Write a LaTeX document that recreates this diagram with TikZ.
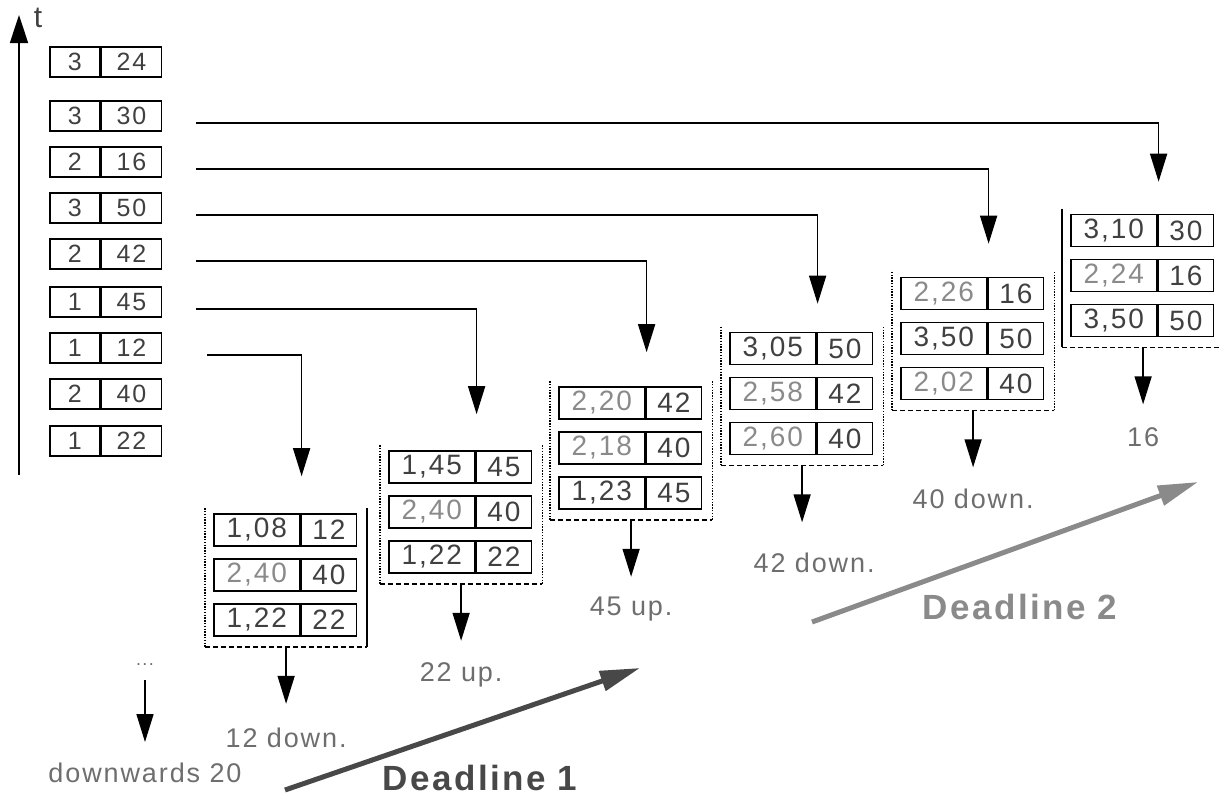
\documentclass[tikz,border=0pt]{standalone}
\usepackage{fontspec}
\setmainfont{Liberation Sans}[LetterSpace=7]
\usepackage{tikz}
\usetikzlibrary{arrows.meta,calc,positioning}
\definecolor{ink}{HTML}{404040}
\definecolor{pale}{HTML}{8A8A8A}
\definecolor{note}{HTML}{6E6E6E}
\definecolor{deadone}{HTML}{484848}
\definecolor{deadtwo}{HTML}{8A8A8A}

\tikzset{
  cell/.style={draw,line width=1.6pt,inner sep=0pt,minimum height=30pt,anchor=west,
    text=ink,font=\fontsize{25}{25}\selectfont},
  gcell/.style={cell,minimum height=32pt,font=\fontsize{28}{28}\selectfont},
  drop/.style={line width=1.6pt,-{Triangle[length=28pt,width=17pt]}},
  res/.style={text=note,inner sep=0pt,font=\fontsize{27}{27}\selectfont},
  sidedot/.style={line width=1.4pt,dash pattern=on 1.4pt off 1.4pt},
  sidesolid/.style={line width=1.6pt},
  bottomline/.style={line width=1.6pt,dash pattern=on 5pt off 3pt},
  dline/.style={line width=5pt,-{Triangle[length=40pt,width=20pt]}},
  dlabel/.style={font=\bfseries\fontsize{35}{35}\selectfont}
}

% rows of one group: name, x, y of first row, {text/value/colour,...}
\newcommand\grprows[4]{%
  \foreach \v/\w/\c [count=\k] in {#4} {
    \node[gcell,minimum width=86pt,text=\c] (#1-\k-l) at (#2,{#3+(\k-1)*45}) {\v};
    \node[gcell,minimum width=55pt] (#1-\k-r) at (#1-\k-l.east) {\w};
  }}
% open frame round a group: name, left side, right side
\newcommand\grpframe[3]{%
  \path ([shift={(-8pt,5pt)}]#1-1-l.north west) coordinate (#1-nw)
        ([shift={(-8pt,-10pt)}]#1-3-l.south west) coordinate (#1-sw)
        ([shift={(10pt,-10pt)}]#1-3-r.south east) coordinate (#1-se)
        ([shift={(10pt,5pt)}]#1-1-r.north east) coordinate (#1-ne)
        ($(#1-sw)!0.5!(#1-se)$) coordinate (#1-out);
  \draw[#2] (#1-nw) -- (#1-sw);
  \draw[bottomline] (#1-sw) -- (#1-se);
  \draw[#3] (#1-se) -- (#1-ne);}

\begin{document}
\begin{tikzpicture}[x=1pt,y=-1pt]
    \useasboundingbox (0,0) rectangle (1220,796);

    % time axis
    \coordinate (t0) at (19,475);
    \coordinate (t1) at (19,15);
    \draw[line width=1.6pt,-{Triangle[length=28pt,width=18pt]}] (t0) -- (t1);
    \node[text=ink,inner sep=0pt,font=\fontsize{30}{30}\selectfont] (tlab) at (38,18) {t};

    % incoming queue
    \foreach \a/\b/\y [count=\i] in {3/24/62,3/30/116,2/16/162,3/50/208,2/42/254,
                                     1/45/302,1/12/348,2/40/394,1/22/441} {
      \node[cell,minimum width=50pt] (q\i-l) at (49,\y) {\a};
      \node[cell,minimum width=60pt] (q\i-r) at (q\i-l.east) {\b};
    }

    \grprows{g1}{213}{530}{1{,}08/12/ink,2{,}40/40/pale,1{,}22/22/ink}
    \grprows{g2}{388}{467}{1{,}45/45/ink,2{,}40/40/pale,1{,}22/22/ink}
    \grprows{g3}{558}{403}{2{,}20/42/pale,2{,}18/40/pale,1{,}23/45/ink}
    \grprows{g4}{729}{348.5}{3{,}05/50/ink,2{,}58/42/pale,2{,}60/40/pale}
    \grprows{g5}{900}{293.5}{2{,}26/16/pale,3{,}50/50/ink,2{,}02/40/pale}
    \grprows{g6}{1070}{230.5}{3{,}10/30/ink,2{,}24/16/pale,3{,}50/50/ink}

    \grpframe{g1}{sidedot}{sidesolid}
    \grpframe{g2}{sidedot}{sidedot}
    \grpframe{g3}{sidedot}{sidedot}
    \grpframe{g4}{sidedot}{sidedot}
    \grpframe{g5}{sidedot}{sidedot}
    \grpframe{g6}{sidesolid}{sidedot}

    % arrivals
    \foreach \i/\g/\off/\gap in {2/g6/34/32,3/g5/34/33,4/g4/34/28,5/g3/34/34,
                                  6/g2/34/36,7/g1/45/37}
      \draw[drop] ([shift={(\off pt,-7pt)}]q\i-r.east) -| ([shift={(1pt,\gap pt)}]\g-1-l.north east);

    % departures
    \foreach \g in {g1,g2,g3,g4,g5,g6}
      \draw[drop] (\g-out) -- ++(0,57) coordinate (\g-tip);
    \node[res,below=24pt of g1-tip] (r1) {12 down.};
    \node[res,below=22pt of g2-tip] (r2) {22 up.};
    \node[res,below=20pt of g3-tip] (r3) {45 up.};
    \node[res,below=30pt of g4-tip,xshift=12pt] (r4) {42 down.};
    \node[res,below=21pt of g5-tip] (r5) {40 down.};
    \node[res,below=23pt of g6-tip] (r6) {16};

    \node[text=note,inner sep=0pt,font=\fontsize{18}{18}\selectfont] (dots) at (145,665) {...};
    \draw[drop] ([yshift=-15pt]dots.center) -- ++(0,62) coordinate (dn-tip);
    \node[res,below=21pt of dn-tip] (dn) {downwards 20};

    % deadlines
    \coordinate (d1s) at (285,790);
    \coordinate (d1e) at (640,668);
    \draw[dline,deadone] (d1s) -- (d1e);
    \node[dlabel,text=deadone] (d1) at (480,778) {Deadline 1};
    \coordinate (d2s) at (812,622);
    \coordinate (d2e) at (1198,482);
    \draw[dline,deadtwo] (d2s) -- (d2e);
    \node[dlabel,text=deadtwo] (d2) at (1020,607) {Deadline 2};
\end{tikzpicture}
\end{document}
